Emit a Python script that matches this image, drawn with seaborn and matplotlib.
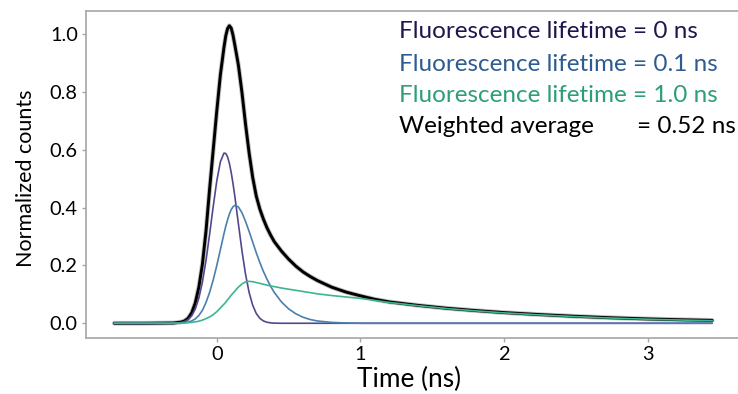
import matplotlib
matplotlib.use("Agg")
import matplotlib.pyplot as plt
import seaborn as sns
import pandas as pd

# ---- data ----
time_ns = [-0.714, -0.5, -0.3, -0.25, -0.225, -0.2, -0.175, -0.15, -0.125, -0.1,
           -0.075, -0.05, -0.025, 0.0, 0.025, 0.05, 0.0625, 0.075, 0.0875, 0.1,
           0.1125, 0.125, 0.15, 0.175, 0.2, 0.225, 0.25, 0.275, 0.3, 0.325,
           0.35, 0.375, 0.4, 0.45, 0.5, 0.55, 0.6, 0.65, 0.7, 0.8,
           0.9, 1.0, 1.1, 1.2, 1.4, 1.6, 1.8, 2.0, 2.25, 2.5,
           2.75, 3.0, 3.25, 3.45]

lifetime_0 = [0, 0, 0.0003, 0.0024, 0.0058, 0.0127, 0.0259, 0.0493, 0.087, 0.143,
              0.218, 0.308, 0.404, 0.493, 0.559, 0.589, 0.588, 0.576, 0.554, 0.523,
              0.485, 0.442, 0.346, 0.252, 0.170, 0.107, 0.0624, 0.0338, 0.017, 0.008,
              0.0035, 0.0014, 0.0005, 0, 0, 0, 0, 0, 0, 0,
              0, 0, 0, 0, 0, 0, 0, 0, 0, 0,
              0, 0, 0, 0]

lifetime_01 = [0, 0, 0, 0.001, 0.002, 0.004, 0.008, 0.015, 0.027, 0.045,
               0.072, 0.107, 0.150, 0.200, 0.255, 0.310, 0.336, 0.358, 0.378, 0.393,
               0.403, 0.408, 0.403, 0.383, 0.353, 0.318, 0.281, 0.244, 0.210, 0.179,
               0.152, 0.128, 0.107, 0.074, 0.050, 0.033, 0.021, 0.013, 0.008, 0.003,
               0.001, 0, 0, 0, 0, 0, 0, 0, 0, 0,
               0, 0, 0, 0]

lifetime_10 = [0, 0, 0, 0.0005, 0.001, 0.002, 0.003, 0.005, 0.007, 0.011,
               0.016, 0.022, 0.030, 0.040, 0.053, 0.066, 0.073, 0.081, 0.089, 0.097,
               0.104, 0.111, 0.125, 0.136, 0.143, 0.145, 0.144, 0.141, 0.138, 0.135,
               0.132, 0.129, 0.127, 0.122, 0.118, 0.114, 0.110, 0.106, 0.102, 0.096,
               0.091, 0.086, 0.079, 0.072, 0.061, 0.051, 0.043, 0.036, 0.029, 0.023,
               0.018, 0.014, 0.011, 0.009]

weighted = [0, 0, 0.001, 0.004, 0.008, 0.017, 0.036, 0.07, 0.125, 0.205,
            0.32, 0.465, 0.60, 0.735, 0.86, 0.955, 0.995, 1.02, 1.03, 1.022,
            0.998, 0.965, 0.895, 0.80, 0.69, 0.59, 0.505, 0.44, 0.395, 0.36,
            0.33, 0.305, 0.283, 0.25, 0.222, 0.198, 0.178, 0.162, 0.148, 0.125,
            0.108, 0.095, 0.083, 0.074, 0.062, 0.052, 0.044, 0.037, 0.030, 0.024,
            0.019, 0.015, 0.012, 0.010]

x_ticks = [0, 1, 2, 3]
y_ticks = [0.0, 0.2, 0.4, 0.6, 0.8, 1.0]

legend_lines = ["Fluorescence lifetime = 0 ns",
                "Fluorescence lifetime = 0.1 ns",
                "Fluorescence lifetime = 1.0 ns"]
weighted_label = "Weighted average"
weighted_value = "= 0.52 ns"

# ---- styling ----
sns.set_theme(style="white")
plt.rcParams["font.family"] = ["Lato", "DejaVu Sans"]

c_purple = "#56468f"
c_blue = "#4a80ad"
c_green = "#3db592"
t_navy = "#1c174f"
t_blue = "#2e5b91"
t_green = "#2e9d79"
spine_c = "#a6a6a6"

df = pd.DataFrame({"t": time_ns, "w": weighted, "l0": lifetime_0,
                   "l01": lifetime_01, "l10": lifetime_10})

fig = plt.figure(figsize=(7.38, 3.94), dpi=100)
ax_l, ax_r, ax_t, ax_b = 85.7, 738.0, 11.0, 338.0
ax = fig.add_axes([ax_l / 738, 1 - ax_b / 394, (ax_r - ax_l) / 738, (ax_b - ax_t) / 394])

sns.lineplot(data=df, x="t", y="w", ax=ax, color="#9a9a9a", lw=3.4, alpha=0.6)
sns.lineplot(data=df, x="t", y="w", ax=ax, color="black", lw=2.1)
sns.lineplot(data=df, x="t", y="l0", ax=ax, color=c_purple, lw=1.2)
sns.lineplot(data=df, x="t", y="l01", ax=ax, color=c_blue, lw=1.2)
sns.lineplot(data=df, x="t", y="l10", ax=ax, color=c_green, lw=1.2)

ax.set_xlim(-0.913, 3.63)
ax.set_ylim(-0.051, 1.081)
ax.set_xticks(x_ticks)
ax.set_xticklabels([str(v) for v in x_ticks])
ax.set_yticks(y_ticks)
ax.set_yticklabels([f"{v:.1f}" for v in y_ticks])

for s in ["left", "bottom", "top"]:
    ax.spines[s].set_color(spine_c)
    ax.spines[s].set_linewidth(1.2)
ax.spines["right"].set_visible(False)
ax.tick_params(axis="both", which="major", direction="out", length=2.8, width=1,
               color=spine_c, labelsize=14.4, labelcolor="black", pad=2.9,
               left=True, bottom=True)

w_ax = ax_r - ax_l
h_ax = ax_b - ax_t
ax.set_xlabel("Time (ns)", fontsize=18.9, color="black")
ax.set_ylabel("Normalized counts", fontsize=15.5, color="black")
ax.xaxis.label.set_va("baseline")
ax.xaxis.set_label_coords((409 - ax_l) / w_ax, -(387 - ax_b) / h_ax)
ax.yaxis.set_label_coords(-(ax_l - 36) / w_ax, (ax_b - 178.5) / h_ax)

text_colors = [t_navy, t_blue, t_green]
baselines = [37.7, 70.7, 101.7]
fs_leg = 17.5
for txt, col, yb in zip(legend_lines, text_colors, baselines):
    fig.text(399.3 / 738, 1 - yb / 394, txt, color=col, fontsize=fs_leg,
             ha="left", va="baseline")
fig.text(399.3 / 738, 1 - 132.7 / 394, weighted_label, color="black",
         fontsize=fs_leg, ha="left", va="baseline")
fig.text(636.7 / 738, 1 - 132.7 / 394, weighted_value, color="black",
         fontsize=fs_leg, ha="left", va="baseline")

fig.savefig("out.png", dpi=100)
